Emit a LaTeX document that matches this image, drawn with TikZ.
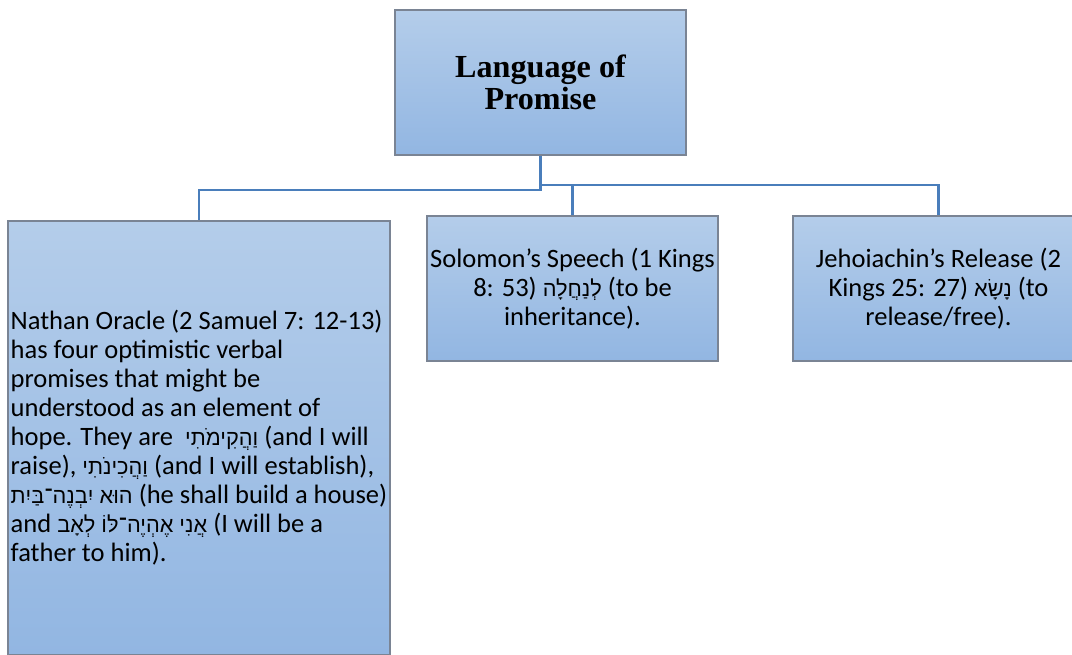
\documentclass[tikz,border=0pt]{standalone}
\usepackage{fontspec}
\setmainfont{Carlito}
\newfontfamily\titlefont{Liberation Serif}
\newfontfamily\hebfont[Script=Hebrew,Scale=0.82]{Liberation Sans}
\TeXXeTstate=1
\usetikzlibrary{positioning}
\definecolor{BoxTop}{RGB}{180,205,234}
\definecolor{BoxBottom}{RGB}{146,182,226}
\definecolor{BoxLine}{RGB}{122,132,148}
\definecolor{LinkBlue}{RGB}{74,126,187}
\newcommand{\heb}[1]{{\hebfont\beginR #1\endR}}
\tikzset{
  box/.style={draw=BoxLine,line width=1pt,top color=BoxTop,bottom color=BoxBottom,
    inner sep=0pt,minimum width=5.82cm,minimum height=2.9cm,align=center},
  titlebox/.style={box,font=\titlefont\bfseries\fontsize{18.3}{18.5}\selectfont},
  textbox/.style={box,font=\fontsize{15.1}{16.5}\selectfont},
  link/.style={draw=LinkBlue,line width=1.7pt}
}

\begin{document}
\begin{tikzpicture}[x=0.02cm,y=-0.02cm]
  \useasboundingbox (0,0) rectangle (1072,655);
  \clip (0,0) rectangle (1072,655);
  % top of the chart
  \node[titlebox] (lang) at (540.5,82.5) {Language of\\Promise};
  % three branches
  \node[textbox,align=left,minimum width=7.64cm,minimum height=8.68cm] (nathan) at (199,438)
    {Nathan Oracle (2 Samuel 7: 12-13)\\
     has four optimistic verbal\\
     promises that might be\\
     understood as an element of\\
     hope. They are \ \heb{וַהֲקִימֹתִי} (and I will\\
     raise), \heb{וַהֲכִינֹתִי} (and I will establish),\\
     \heb{הוּא יִבְנֶה־בַּיִת} (he shall build a house)\\
     and \heb{אֲנִי אֶהְיֶה־לּוֹ לְאָב} (I will be a\\
     father to him).};
  \node[textbox] (solomon) at (572.5,288.5)
    {Solomon’s Speech (1 Kings\\ 8: 53) \heb{לְנַחֲלָה} (to be\\ inheritance).};
  \node[textbox] (jehoiachin) at (938.5,288.5)
    {Jehoiachin’s Release (2\\ Kings 25: 27) \heb{נָשָׂא} (to\\ release/free).};
  % connectors
  \coordinate (jl) at (540.5,190);
  \coordinate (jr) at (540.5,185);
  \draw[link] (lang.south) -- (jl) -| (nathan.north);
  \draw[link] (jr) -| (solomon.north);
  \draw[link] (jr) -| (jehoiachin.north);
\end{tikzpicture}
\end{document}
